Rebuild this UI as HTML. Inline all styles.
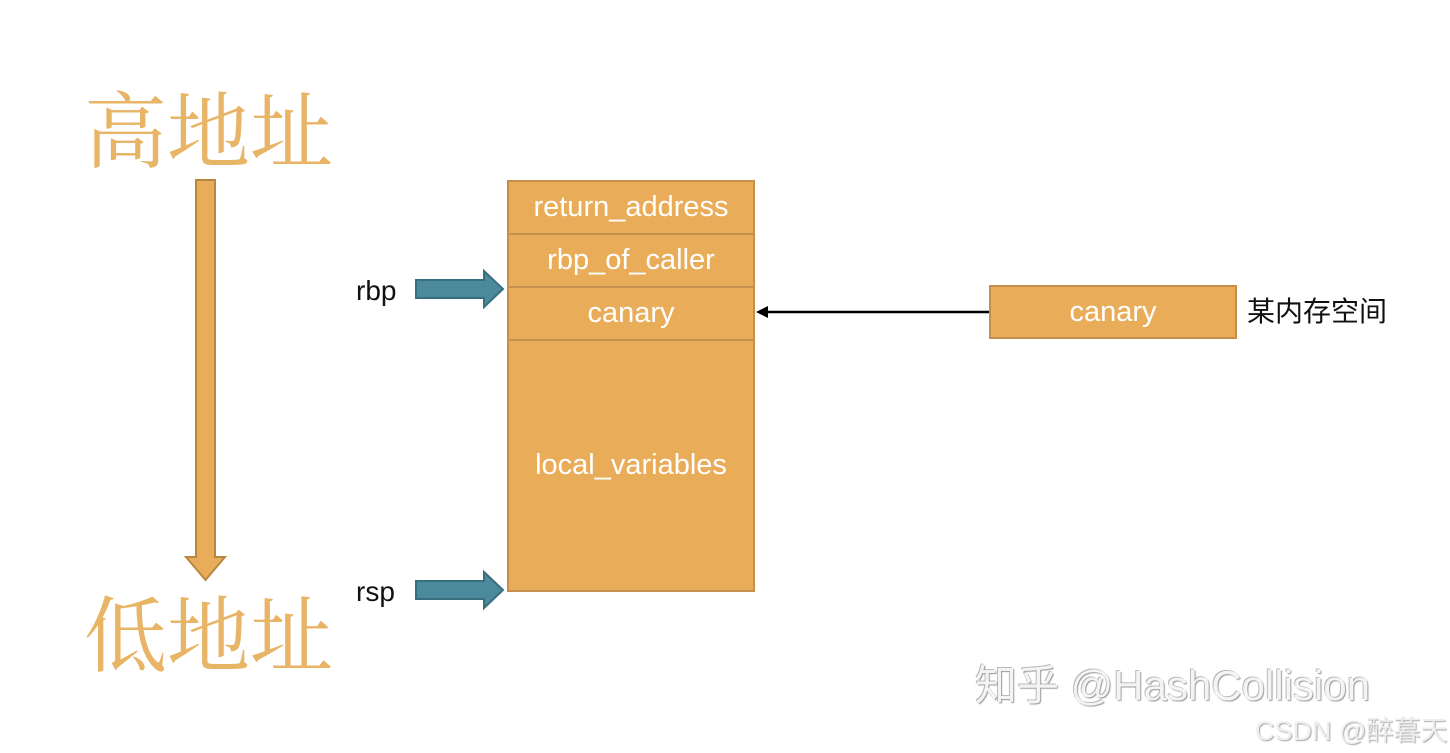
<!DOCTYPE html>
<html><head><meta charset="utf-8"><style>
body{margin:0;width:1450px;height:753px;background:#fff;position:relative;overflow:hidden;font-family:"Liberation Sans","Noto Sans CJK SC",sans-serif}
.t{position:absolute;white-space:nowrap}
.big{font-family:"Noto Serif CJK SC",serif;font-size:83px;color:#E8B466;left:84px;letter-spacing:0px;line-height:1}
.cell{position:absolute;background:#E9AC58;border:2px solid #C4904C;box-sizing:border-box;color:#fff;font-size:29px;display:flex;align-items:center;justify-content:center}
</style></head><body>
<div class="t big" style="top:84px">高地址</div>
<div class="t big" style="top:588px">低地址</div>
<svg width="1450" height="753" style="position:absolute;left:0;top:0">
<polygon points="196,180 215,180 215,557 225,557 205.5,580 186,557 196,557" fill="#E9AC58" stroke="#B88640" stroke-width="2"/>
<polygon points="416,280 484,280 484,271 503,289 484,307 484,298 416,298" fill="#4A8A9C" stroke="#386F7F" stroke-width="2"/>
<polygon points="416,581 484,581 484,572 503,590 484,608 484,599 416,599" fill="#4A8A9C" stroke="#386F7F" stroke-width="2"/>
<line x1="989" y1="312" x2="766" y2="312" stroke="#000" stroke-width="2.5"/>
<polygon points="756,312 768,306 768,318" fill="#000"/>
</svg>
<div class="cell" style="left:507px;top:180px;width:248px;height:55px">return_address</div>
<div class="cell" style="left:507px;top:233px;width:248px;height:55px">rbp_of_caller</div>
<div class="cell" style="left:507px;top:286px;width:248px;height:55px">canary</div>
<div class="cell" style="left:507px;top:339px;width:248px;height:253px">local_variables</div>
<div class="cell" style="left:989px;top:285px;width:248px;height:54px">canary</div>
<div class="t" style="left:1247px;top:290px;font-size:28px;color:#111">某内存空间</div>
<div class="t" style="left:356px;top:275px;font-size:28px;color:#111">rbp</div>
<div class="t" style="left:356px;top:576px;font-size:28px;color:#111">rsp</div>
<div class="t" style="left:975px;top:652px;font-size:42px;color:#f4f4f4;text-shadow:1px 1px 1px #999,-1px -1px 0 #bbb">知乎 @HashCollision</div>
<div class="t" style="left:1255px;top:709px;font-size:27px;color:#eee;text-shadow:1px 1px 1px #aaa">CSDN @醉暮天</div>
</body></html>
